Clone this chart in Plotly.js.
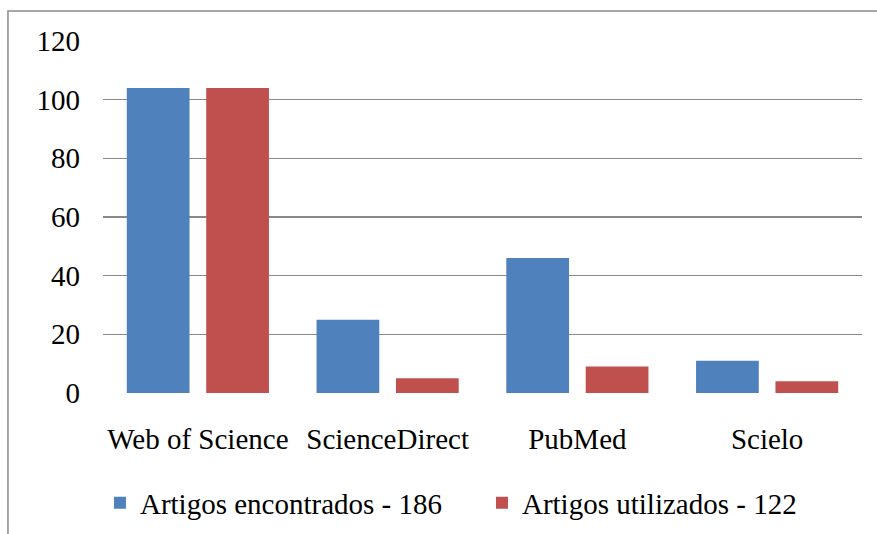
<!DOCTYPE html>
<html>
<head>
<meta charset="utf-8">
<script src="https://cdn.plot.ly/plotly-3.0.1.min.js"></script>
<style>html,body{margin:0;padding:0;background:#fff;}#chart{width:877px;height:534px;}</style>
</head>
<body>
<div id="chart"></div>
<script>
const categories = ["Web of Science", "ScienceDirect", "PubMed", "Scielo"];
const encontrados = [104, 25, 46, 11];
const utilizados = [104, 5, 9, 4];
const seriesNames = ["Artigos encontrados - 186", "Artigos utilizados - 122"];
const yTicks = [0, 20, 40, 60, 80, 100, 120];

const font = {family: "'Liberation Serif', 'Times New Roman', serif", size: 29, color: "#000"};

const data = [
  {type: "bar", x: categories, y: encontrados, name: seriesNames[0], marker: {color: "#4F81BD"}, hoverinfo: "none"},
  {type: "bar", x: categories, y: utilizados, name: seriesNames[1], marker: {color: "#C0504D"}, hoverinfo: "none"}
];

const layout = {
  width: 877, height: 534,
  margin: {l: 103, r: 15, t: 41, b: 141, pad: 0, autoexpand: false},
  paper_bgcolor: "#fff", plot_bgcolor: "#fff",
  font: font,
  barmode: "group", bargap: 0.163, bargroupgap: 0.21,
  showlegend: true,
  legend: {orientation: "h", x: -0.004, xanchor: "left", y: -0.3125, yanchor: "middle", font: font, entrywidth: 337, entrywidthmode: "pixels", itemclick: false},
  xaxis: {showgrid: false, showline: false, zeroline: false, ticks: "", ticklabelstandoff: 26, tickfont: font},
  yaxis: {range: [0, 120], tickvals: yTicks, showgrid: true, gridcolor: "#888888", gridwidth: 1.6, zeroline: false, showline: false, ticks: "", ticklabelstandoff: 22, tickfont: font},
  shapes: [{type: "rect", xref: "paper", yref: "paper", x0: -0.1252, x1: 1.2, y0: -1, y1: 1.0852, line: {color: "#8a8a8a", width: 1.5}, fillcolor: "rgba(0,0,0,0)", layer: "below"}]
};

Plotly.newPlot("chart", data, layout, {staticPlot: true, displayModeBar: false});
</script>
</body>
</html>
